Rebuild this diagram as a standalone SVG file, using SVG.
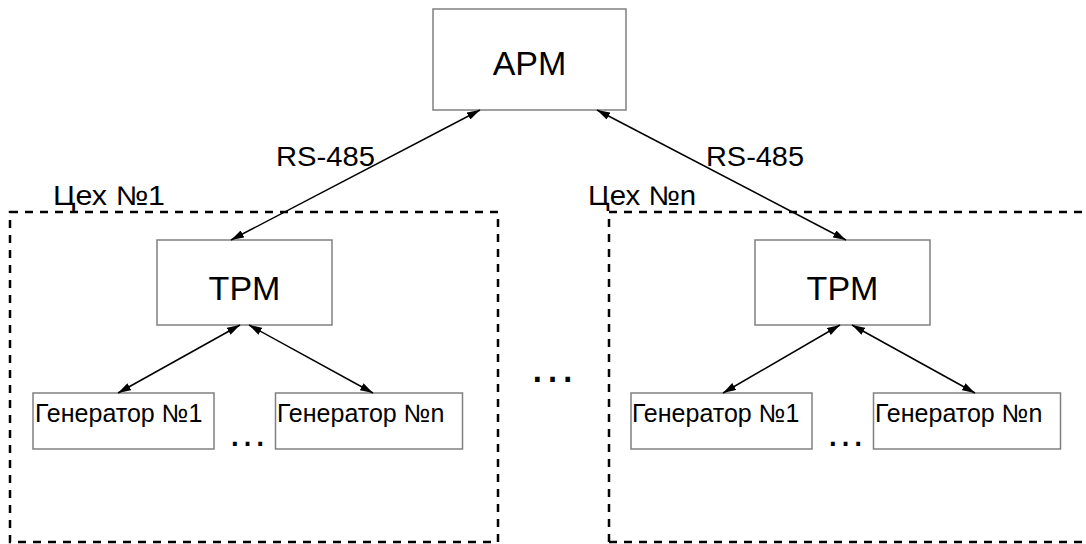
<svg xmlns="http://www.w3.org/2000/svg" width="1086" height="544" viewBox="0 0 1086 544">
<style>
.box{fill:#fff;stroke:#808080;stroke-width:1.5}
.zone{fill:none;stroke:#000;stroke-width:2.5;stroke-dasharray:8 7}
.link{stroke:#000;stroke-width:1.5;fill:none;marker-start:url(#ah);marker-end:url(#ah)}
text{font-family:"Liberation Sans",Arial,sans-serif;fill:#000}
.big{font-size:34px;text-anchor:middle}
.gen{font-size:25px}
.lbl{font-size:27px}
</style>
<defs>
<marker id="ah" viewBox="0 0 13 8" refX="13" refY="4" markerWidth="13" markerHeight="8" markerUnits="userSpaceOnUse" orient="auto-start-reverse">
<path d="M0,0 L13,4 L0,8 Z" fill="#000"/>
</marker>
</defs>
<rect width="1086" height="544" fill="#fff"/>
<g id="zone1">
<rect class="zone" x="10" y="212" width="488" height="330"/>
<text class="lbl" x="53" y="205" textLength="112" lengthAdjust="spacingAndGlyphs">Цех №1</text>
</g>
<g id="zonen">
<path class="zone" d="M609,542 V212 H1090"/>
<path class="zone" d="M609,542 H1090"/>
<text class="lbl" x="588" y="205" textLength="108" lengthAdjust="spacingAndGlyphs">Цех №n</text>
</g>
<g id="apm">
<rect class="box" x="433" y="9" width="193" height="101"/>
<text class="big" x="529.5" y="75" font-size="35">APM</text>
</g>
<g id="tpm1">
<rect class="box" x="157" y="240" width="175" height="85"/>
<text class="big" x="244.5" y="300">TPM</text>
</g>
<g id="tpmn">
<rect class="box" x="755" y="240" width="175" height="85"/>
<text class="big" x="842.5" y="300">TPM</text>
</g>
<g id="gen1_1">
<rect class="box" x="33" y="393" width="181" height="56"/>
<text class="gen" x="35" y="422">Генератор №1</text>
</g>
<g id="gen1_n">
<rect class="box" x="275.5" y="393" width="187" height="56"/>
<text class="gen" x="277" y="422">Генератор №n</text>
</g>
<g id="genn_1">
<rect class="box" x="631" y="393" width="181" height="56"/>
<text class="gen" x="632" y="422">Генератор №1</text>
</g>
<g id="genn_n">
<rect class="box" x="873.5" y="393" width="187" height="56"/>
<text class="gen" x="875" y="422">Генератор №n</text>
</g>
<g id="dots">
<text x="247.5" y="446" font-size="40" text-anchor="middle">…</text>
<text x="845.5" y="446" font-size="40" text-anchor="middle">…</text>
<text x="552.5" y="382" font-size="48" text-anchor="middle">…</text>
</g>
<g id="connectors">
<line class="link" x1="480" y1="110" x2="231" y2="240"/>
<line class="link" x1="597" y1="110" x2="846" y2="240"/>
<line class="link" x1="240" y1="325" x2="118" y2="393"/>
<line class="link" x1="249" y1="325" x2="373" y2="393"/>
<line class="link" x1="840" y1="325" x2="723" y2="393"/>
<line class="link" x1="852" y1="325" x2="975" y2="393"/>
<text class="lbl" x="276" y="166" textLength="99" lengthAdjust="spacingAndGlyphs">RS-485</text>
<text class="lbl" x="706" y="166" textLength="98" lengthAdjust="spacingAndGlyphs">RS-485</text>
</g>
</svg>
